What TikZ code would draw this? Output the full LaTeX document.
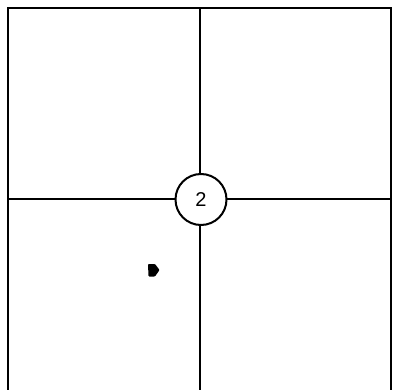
\documentclass[tikz,border=0pt]{standalone}
\usepackage{fontspec}
\setmainfont{Liberation Sans}
\begin{document}
\begin{tikzpicture}[x=1pt,y=-1pt,
  frame/.style={draw=black,line width=2pt},
  grid/.style={draw=black,line width=1.6pt},
  hub/.style={circle,draw=black,line width=2pt,fill=white,minimum size=51pt,inner sep=0pt}]
\useasboundingbox (0,0) rectangle (393,390);
\begin{scope}
\clip (0,0) rectangle (393,390);
\coordinate (tl) at (8,8);
\coordinate (br) at (391,395);
\draw[frame] (tl) rectangle (br);
\coordinate (vt) at (200,8);
\coordinate (vb) at (200,395);
\coordinate (hl) at (8,199);
\coordinate (hr) at (391,199);
\draw[grid] (vt) -- (vb);
\draw[grid] (hl) -- (hr);
\end{scope}
\node[hub,font=\fontsize{20}{20}\selectfont] (c) at (201,199.5) {2};
\fill[black,rounded corners=0.8pt] (148,264) -- (155,264) -- (159.5,270) -- (155,276.5) -- (148.5,276.5) -- cycle;
\end{tikzpicture}
\end{document}
